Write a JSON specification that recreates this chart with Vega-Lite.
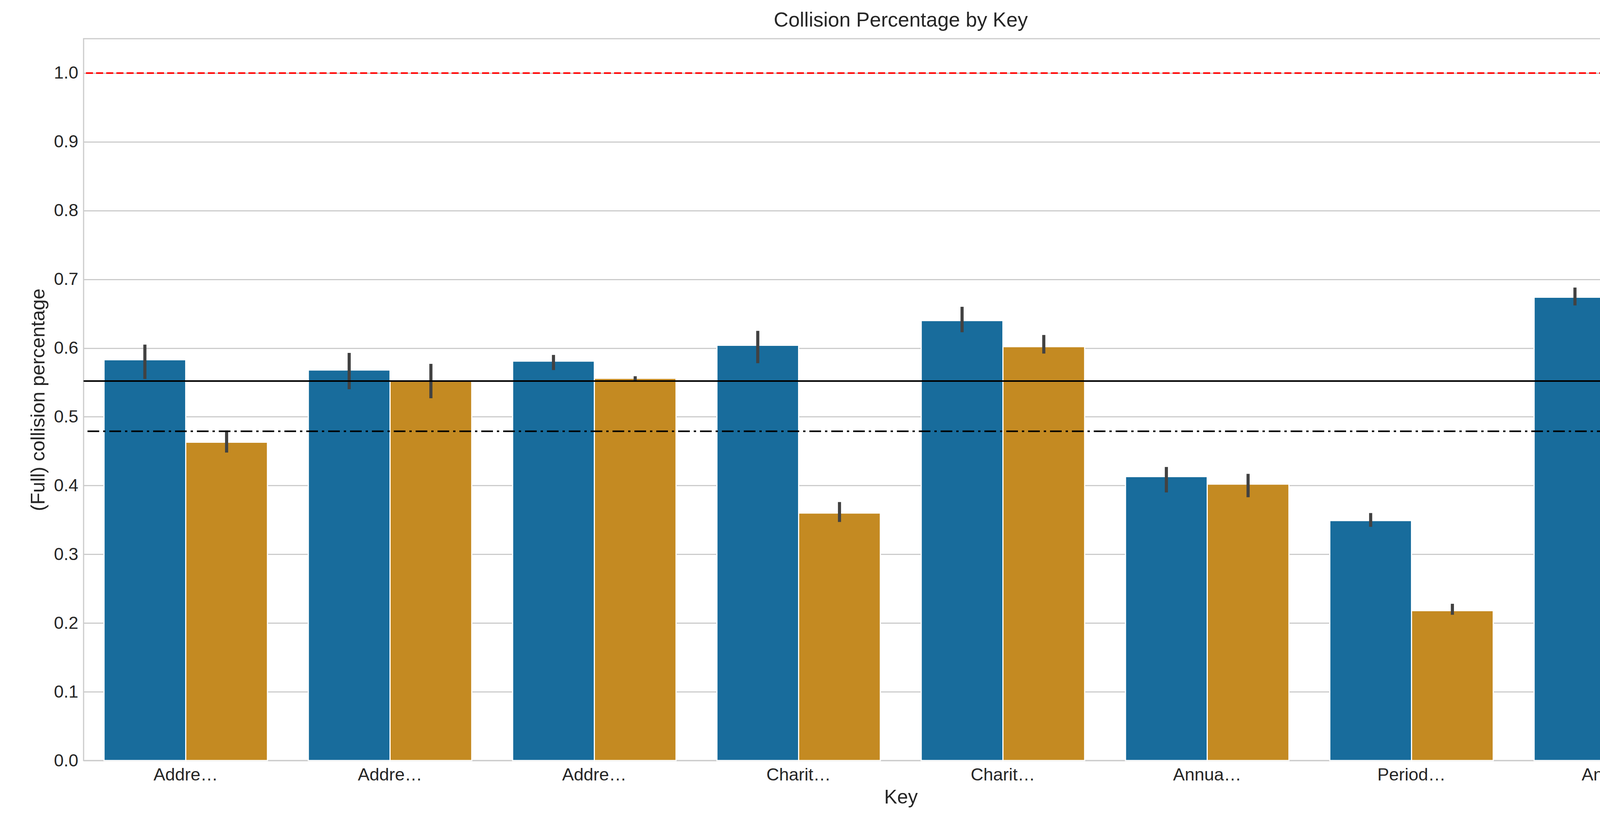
{
"$schema":"https://vega.github.io/schema/vega-lite/v6.json",
"autosize":{"type":"none"},
"width":4184,"height":1847,
"padding":{"left":214,"top":99,"right":31,"bottom":188},
"background":"white",
"config":{"font":"Liberation Sans","view":{"stroke":"#cccccc","strokeWidth":3},
 "axis":{"labelFont":"Liberation Sans","titleFont":"Liberation Sans","labelFontSize":45,"titleFontSize":50,"labelColor":"#262626","titleColor":"#262626","titleFontWeight":"normal","ticks":false,"domain":false,"gridColor":"#cccccc","gridWidth":3}},
"title":{"text":"Collision Percentage by Key","fontSize":52,"fontWeight":"normal","color":"#262626","offset":20},
"datasets":{
"bars":[
{"Key":"Address (post town)","series":"Collision percentage","v":0.583,"lo":0.555,"hi":0.605},
{"Key":"Address (post town)","series":"Full Collision percentage","v":0.463,"lo":0.448,"hi":0.48},
{"Key":"Address (post code)","series":"Collision percentage","v":0.568,"lo":0.54,"hi":0.593},
{"Key":"Address (post code)","series":"Full Collision percentage","v":0.553,"lo":0.527,"hi":0.577},
{"Key":"Address (street)","series":"Collision percentage","v":0.581,"lo":0.568,"hi":0.59},
{"Key":"Address (street)","series":"Full Collision percentage","v":0.556,"lo":0.552,"hi":0.559},
{"Key":"Charity Name","series":"Collision percentage","v":0.604,"lo":0.578,"hi":0.625},
{"Key":"Charity Name","series":"Full Collision percentage","v":0.36,"lo":0.347,"hi":0.376},
{"Key":"Charity Number","series":"Collision percentage","v":0.64,"lo":0.623,"hi":0.66},
{"Key":"Charity Number","series":"Full Collision percentage","v":0.602,"lo":0.592,"hi":0.619},
{"Key":"Annual Income","series":"Collision percentage","v":0.413,"lo":0.39,"hi":0.427},
{"Key":"Annual Income","series":"Full Collision percentage","v":0.402,"lo":0.383,"hi":0.417},
{"Key":"Period End Date","series":"Collision percentage","v":0.349,"lo":0.34,"hi":0.36},
{"Key":"Period End Date","series":"Full Collision percentage","v":0.218,"lo":0.212,"hi":0.228},
{"Key":"Annual Spending","series":"Collision percentage","v":0.674,"lo":0.662,"hi":0.688},
{"Key":"Annual Spending","series":"Full Collision percentage","v":0.673,"lo":0.66,"hi":0.687}
],
"legend":[
{"series":"Worst case (every unification has a collision)","v":1.0},
{"series":"Average collision percentage","v":0.552},
{"series":"Average full collision percentage","v":0.479},
{"series":"Collision percentage","v":0.5},
{"series":"Full Collision percentage","v":0.5}
]
},
"layer":[
{"data":{"name":"bars"},"mark":{"type":"bar","stroke":"white","strokeWidth":3},
 "encoding":{
  "x":{"field":"Key","type":"nominal","sort":null,"scale":{"paddingInner":0.2,"paddingOuter":0.1},"axis":{"labelAngle":0,"title":"Key","labelPadding":14,"titlePadding":10}},
  "xOffset":{"field":"series","type":"nominal","scale":{"paddingInner":0,"paddingOuter":0}},
  "y":{"field":"v","type":"quantitative","scale":{"domain":[0,1.05],"nice":false},"axis":{"values":[0,0.1,0.2,0.3,0.4,0.5,0.6,0.7,0.8,0.9,1.0],"format":".1f","title":"(Full) collision percentage","labelPadding":14,"titlePadding":14}},
  "fill":{"field":"series","type":"nominal","scale":{"domain":["Worst case (every unification has a collision)","Average collision percentage","Average full collision percentage","Collision percentage","Full Collision percentage"],"range":["#ff0000","#000000","#000000","#186c9c","#c48a22"]},"legend":null}
 }},
{"data":{"name":"bars"},"mark":{"type":"rule","color":"#424242","strokeWidth":8},
 "encoding":{
  "x":{"field":"Key","type":"nominal","sort":null},
  "xOffset":{"field":"series","type":"nominal"},
  "y":{"field":"lo","type":"quantitative"},
  "y2":{"field":"hi"}
 }},
{"data":{"values":[{"y":1.0}]},"mark":{"type":"rule","color":"#ff0000","strokeWidth":4,"strokeDash":[18,8]},"encoding":{"y":{"field":"y","type":"quantitative"}}},
{"data":{"values":[{"y":0.552}]},"mark":{"type":"rule","color":"#000000","strokeWidth":4},"encoding":{"y":{"field":"y","type":"quantitative"}}},
{"data":{"values":[{"y":0.479}]},"mark":{"type":"rule","color":"#000000","strokeWidth":4,"strokeDash":[30,10,6,10]},"encoding":{"y":{"field":"y","type":"quantitative"}}},
{"data":{"name":"legend"},"mark":{"type":"point","filled":true,"size":0},
 "encoding":{
  "y":{"field":"v","type":"quantitative"},
  "shape":{"field":"series","type":"nominal","scale":{"domain":["Worst case (every unification has a collision)","Average collision percentage","Average full collision percentage","Collision percentage","Full Collision percentage"],"range":["M-1,0H-0.7M-0.5,0H-0.2M0,0H0.3M0.5,0H0.8","M-1,0H1","M-1,0H-0.5M-0.3,0H-0.2M0,0H0.5M0.7,0H0.8","M-1,-0.8H1V0.8H-1Z","M-1,-0.8H1V0.8H-1Z"]},
   "legend":{"title":null,"orient":"none","legendX":2876,"legendY":119,"symbolSize":12100,"symbolStrokeWidth":5,"symbolOpacity":1,"labelFontSize":45,"labelFont":"Liberation Sans","labelColor":"#262626","rowPadding":30,"padding":24,"fillColor":"white","strokeColor":"#d0d0d0","cornerRadius":8,"labelOffset":40,"labelLimit":2000}},
  "color":{"field":"series","type":"nominal","scale":{"domain":["Worst case (every unification has a collision)","Average collision percentage","Average full collision percentage","Collision percentage","Full Collision percentage"],"range":["#ff0000","#000000","#000000","#186c9c","#c48a22"]},
   "legend":{"title":null,"orient":"none","legendX":2876,"legendY":119,"symbolSize":12100,"symbolStrokeWidth":5,"symbolOpacity":1,"labelFontSize":45,"labelFont":"Liberation Sans","labelColor":"#262626","rowPadding":30,"padding":24,"fillColor":"white","strokeColor":"#d0d0d0","cornerRadius":8,"labelOffset":40,"labelLimit":2000}}
 }}
]
}
